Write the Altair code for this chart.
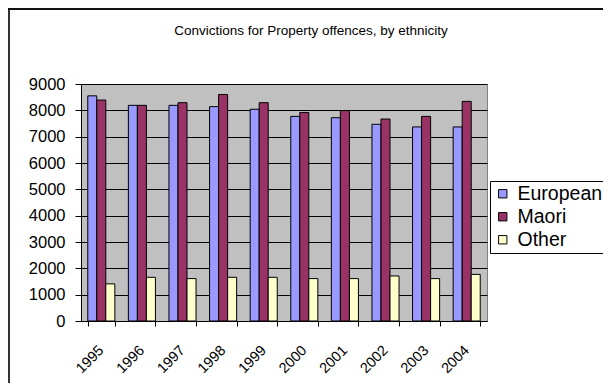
import altair as alt
import pandas as pd

years = ["1995", "1996", "1997", "1998", "1999", "2000", "2001", "2002", "2003", "2004"]
series = ["European", "Maori", "Other"]
european = [8550, 8190, 8190, 8140, 8040, 7770, 7720, 7470, 7370, 7370]
maori = [8390, 8190, 8290, 8600, 8290, 7920, 7990, 7670, 7770, 8340]
other = [1410, 1660, 1610, 1660, 1660, 1610, 1610, 1710, 1610, 1770]
colors = ["#9999FF", "#993366", "#FFFFCC"]
y_ticks = [0, 1000, 2000, 3000, 4000, 5000, 6000, 7000, 8000, 9000]
title_text = "Convictions for Property offences, by ethnicity"

rows = []
for name, vals in zip(series, [european, maori, other]):
    for yr, v in zip(years, vals):
        rows.append({"Year": yr, "Ethnicity": name, "Value": v})
df = pd.DataFrame(rows)

FONT = "Liberation Sans"
W, H = 406, 237
PAD = {"left": 73, "top": 76, "right": 116, "bottom": 62}

bars = alt.Chart(df).mark_bar(stroke="black", strokeWidth=1).encode(
    x=alt.X(
        "Year:N", sort=years,
        scale=alt.Scale(paddingInner=1 / 3, paddingOuter=1 / 6),
        axis=alt.Axis(
            title=None, labelAngle=-45, labelAlign="right", labelBaseline="top",
            tickBand="extent", tickSize=5, tickColor="black", domainColor="black",
            labelFont=FONT, labelFontSize=14.5, labelColor="black", labelPadding=17,
            labelOffset=-5, grid=False,
        ),
    ),
    xOffset=alt.XOffset("Ethnicity:N", sort=series,
                        scale=alt.Scale(paddingInner=0, paddingOuter=0)),
    y=alt.Y(
        "Value:Q",
        scale=alt.Scale(domain=[0, 9000], nice=False),
        axis=alt.Axis(
            title=None, values=y_ticks, format="d", grid=True, gridColor="black",
            gridWidth=1, gridOpacity=1, tickSize=6, tickColor="black",
            domainColor="black", labelFont=FONT, labelFontSize=16.5,
            labelColor="black", labelPadding=10,
        ),
    ),
    color=alt.Color(
        "Ethnicity:N", sort=series,
        scale=alt.Scale(domain=series, range=colors),
        legend=alt.Legend(
            title=None, orient="none", legendX=409, legendY=97,
            symbolType="square", symbolSize=70, symbolStrokeColor="black",
            symbolStrokeWidth=1, labelFont=FONT, labelFontSize=19.5,
            labelColor="black", labelOffset=5, rowPadding=2, padding=3,
            strokeColor="black", fillColor="white", labelLimit=200,
        ),
    ),
)

frame_df = pd.DataFrame({"k": [0]})
left_border = alt.Chart(frame_df).mark_rule(color="#333333", strokeWidth=2).encode(
    x=alt.value(-72), y=alt.value(-PAD["top"]), y2=alt.value(H + PAD["bottom"])
)
top_border = alt.Chart(frame_df).mark_rule(color="#111111", strokeWidth=2).encode(
    y=alt.value(-75), x=alt.value(-PAD["left"]), x2=alt.value(W + PAD["right"])
)
title_df = pd.DataFrame({"t": [title_text]})
title_mark = alt.Chart(title_df).mark_text(
    font=FONT, fontSize=13.5, color="black", align="center", baseline="alphabetic"
).encode(text="t:N", x=alt.value(230), y=alt.value(-49))

chart = alt.layer(bars, left_border, top_border, title_mark).properties(
    width=W, height=H,
    autosize=alt.AutoSizeParams(type="none"),
    padding=PAD,
    background="white",
).configure_view(fill="#C0C0C0", stroke="#808080", strokeWidth=1)

chart.save("out.html", embed_options={"renderer": "svg", "actions": False})
